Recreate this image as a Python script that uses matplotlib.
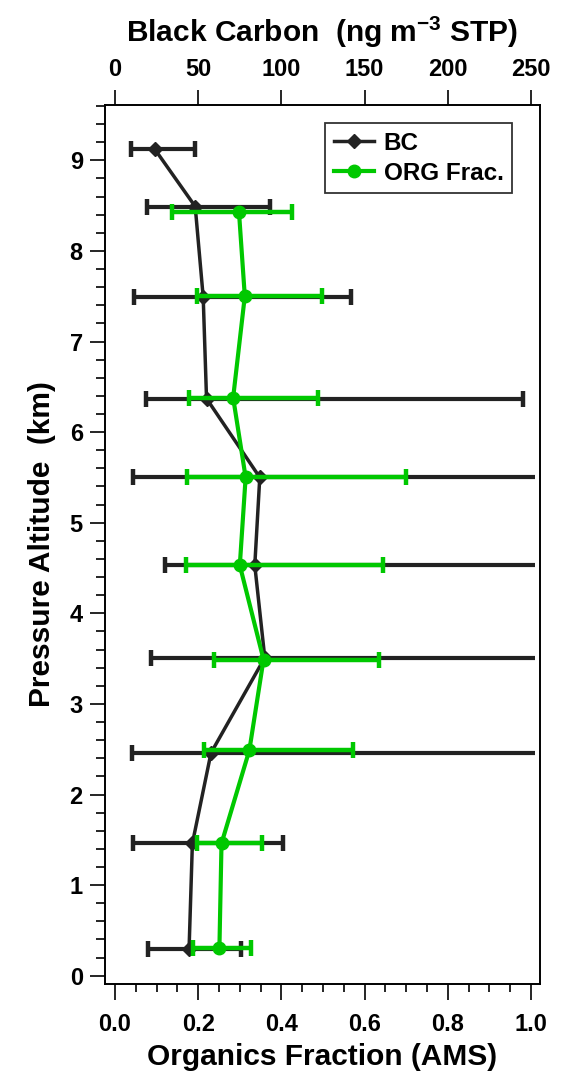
import numpy as np
import matplotlib
matplotlib.use('Agg')
import matplotlib.pyplot as plt
from matplotlib.patches import Rectangle

plt.rcParams['font.family'] = ['Liberation Sans', 'DejaVu Sans']
plt.rcParams['font.weight'] = 'bold'
plt.rcParams['mathtext.fontset'] = 'custom'
plt.rcParams['mathtext.rm'] = 'Liberation Sans:bold'
plt.rcParams['mathtext.default'] = 'rm'

# Black carbon profile (ng m-3 STP)
bc_alt = [0.29, 1.46, 2.46, 3.51, 4.53, 5.50, 6.37, 7.49, 8.49, 9.12]
bc_val = [44.5, 46.5, 57.7, 90.0, 84.0, 87.0, 55.0, 53.0, 48.2, 24.0]
bc_lo = [19.8, 10.6, 10.0, 21.6, 30.0, 11.0, 18.6, 11.6, 19.0, 9.6]
bc_hi = [75.7, 101.0, 300.0, 300.0, 300.0, 300.0, 245.0, 142.0, 93.0, 48.0]

# Organics mass fraction (AMS)
org_alt = [0.31, 1.46, 2.49, 3.49, 4.53, 5.50, 6.38, 7.50, 8.43]
org_val = [0.251, 0.256, 0.323, 0.357, 0.300, 0.314, 0.284, 0.312, 0.298]
org_lo = [0.187, 0.196, 0.214, 0.238, 0.171, 0.172, 0.178, 0.198, 0.136]
org_hi = [0.327, 0.353, 0.573, 0.635, 0.644, 0.700, 0.489, 0.497, 0.425]

black = '#222222'
green = '#00C800'

fig = plt.figure(figsize=(5.68, 10.75), dpi=100)
ax = fig.add_axes([0.1849, 0.0851, 0.7658, 0.8172])
ax2 = ax.twiny()

# BC on the top axis, drawn underneath the organics
bc_x = np.array(bc_val)
bc_err = [bc_x - np.array(bc_lo), np.array(bc_hi) - bc_x]
eb_bc = ax2.errorbar(bc_val, bc_alt, xerr=bc_err, color=black, lw=2.5,
                     marker='D', ms=7, elinewidth=3, capsize=6, capthick=3.2,
                     label='BC')
clip = Rectangle((-10, -1), 262.4, 20, transform=ax2.transData)
for art in eb_bc.lines[1] + eb_bc.lines[2]:
    art.set_clip_path(clip)

org_x = np.array(org_val)
org_err = [org_x - np.array(org_lo), np.array(org_hi) - org_x]
eb_org = ax.errorbar(org_val, org_alt, xerr=org_err, color=green, lw=3,
                     marker='o', ms=9, elinewidth=3.2, capsize=6, capthick=3.2,
                     label='ORG Frac.')

ax.set_zorder(ax2.get_zorder() + 1)
ax.patch.set_visible(False)

ax.set_xlim(-0.024, 1.0216)
ax2.set_xlim(-0.024 * 250, 1.0216 * 250)
ax.set_ylim(-0.086, 9.61)

ax.set_xticks(np.arange(0, 1.01, 0.2))
ax.set_xticks(np.arange(0, 1.01, 0.05), minor=True)
ax.set_xticklabels(['%.1f' % v for v in np.arange(0, 1.01, 0.2)])
ax.set_yticks(np.arange(0, 10, 1))
ax.set_yticks(np.arange(0, 9.61, 0.2), minor=True)
ax2.set_xticks(np.arange(0, 251, 50))

ax.tick_params(axis='x', which='major', direction='out', length=11.5, width=1.2,
               labelsize=17, pad=10)
ax.tick_params(axis='x', which='minor', direction='out', length=6, width=1.2)
ax.tick_params(axis='y', which='major', direction='out', length=11, width=1.2,
               labelsize=17, pad=5)
ax.tick_params(axis='y', which='minor', direction='out', length=6.5, width=1.2)
ax2.tick_params(axis='x', which='major', direction='out', length=11, width=1.2,
                labelsize=17, pad=6)

for a in (ax, ax2):
    for s in a.spines.values():
        s.set_linewidth(1.2)

ax.set_xlabel('Organics Fraction (AMS)', fontsize=21.5, fontweight='bold', labelpad=5)
ax.set_ylabel('Pressure Altitude  (km)', fontsize=21.5, fontweight='bold', labelpad=10)
ax2.set_xlabel('Black Carbon  (ng m$^{-3}$ STP)', fontsize=21.5, fontweight='bold', labelpad=12)

handles = [eb_bc[0], eb_org[0]]
leg = ax.legend(handles, ['BC', 'ORG Frac.'], loc='upper right',
                bbox_to_anchor=(0.936, 0.9795), fontsize=17.5, frameon=True,
                fancybox=False, handlelength=1.65, borderpad=0.35,
                labelspacing=0.3, handletextpad=0.4, borderaxespad=0)
leg.get_frame().set_edgecolor('black')
leg.get_frame().set_linewidth(1.3)

fig.savefig('out.png', dpi=100)
